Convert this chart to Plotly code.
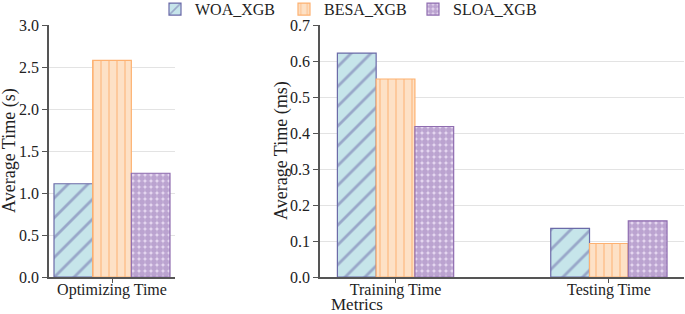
import plotly.graph_objects as go

series = ["WOA_XGB", "BESA_XGB", "SLOA_XGB"]
opt_cat = ["Optimizing Time"]
opt_vals = {"WOA_XGB": [1.11], "BESA_XGB": [2.58], "SLOA_XGB": [1.235]}
tt_cat = ["Training Time", "Testing Time"]
tt_vals = {"WOA_XGB": [0.622, 0.135], "BESA_XGB": [0.55, 0.093], "SLOA_XGB": [0.418, 0.156]}
y1_ticks = [0.0, 0.5, 1.0, 1.5, 2.0, 2.5, 3.0]
y2_ticks = [0.0, 0.1, 0.2, 0.3, 0.4, 0.5, 0.6, 0.7]

styles = {
    "WOA_XGB": dict(bg="#c6e5ea", fg="#6b6aa8", shape="/", size=14, sol=0.2),
    "BESA_XGB": dict(bg="#fde1c6", fg="#fdb171", shape="|", size=8, sol=0.25),
    "SLOA_XGB": dict(bg="#e6d9f0", fg="#8f6db0", shape=".", size=6, sol=0.75),
}
FONT = "Liberation Serif"
W, H = 685, 314

fig = go.Figure()
for s in series:
    st = styles[s]
    marker = dict(color=st["bg"], line=dict(color=st["fg"], width=1.2),
                  pattern=dict(shape=st["shape"], fgcolor=st["fg"], bgcolor=st["bg"],
                               size=st["size"], solidity=st["sol"], fillmode="overlay"))
    fig.add_trace(go.Bar(x=opt_cat, y=opt_vals[s], name=s, marker=marker,
                         xaxis="x", yaxis="y", legendgroup=s))
    fig.add_trace(go.Bar(x=tt_cat, y=tt_vals[s], name=s, marker=marker,
                         xaxis="x2", yaxis="y2", legendgroup=s, showlegend=False))

axis_common = dict(showline=True, linecolor="#555555", linewidth=1.5, ticks="outside",
                   tickcolor="#555555", automargin=False,
                   tickfont=dict(family=FONT, size=16, color="#222"))
xaxis_common = dict(ticklen=4, ticklabelstandoff=-7, **axis_common)
yaxis_common = dict(ticklen=5, **axis_common)
ydom = [1 - 277 / H, 1 - 25 / H]
fig.update_layout(
    template="none",
    width=W, height=H, margin=dict(l=0, r=0, t=0, b=0, autoexpand=False),
    paper_bgcolor="white", plot_bgcolor="white",
    barmode="group", bargap=0.455, bargroupgap=0,
    font=dict(family=FONT, size=16, color="#222"),
    xaxis=dict(domain=[49 / W, 175 / W], range=[-0.296, 0.296], type="category",
               showgrid=False, **xaxis_common),
    xaxis2=dict(domain=[320 / W, 684 / W], range=[-0.354, 1.352], type="category",
                showgrid=False, **xaxis_common),
    yaxis=dict(domain=ydom, range=[0, 3.0], tickvals=y1_ticks, tickformat=".1f", zeroline=False,
               showgrid=True, gridcolor="#e3e3e3", gridwidth=1.2, anchor="x", **yaxis_common),
    yaxis2=dict(domain=ydom, range=[0, 0.7], tickvals=y2_ticks, tickformat=".1f", zeroline=False,
                showgrid=True, gridcolor="#e3e3e3", gridwidth=1.2, anchor="x2", **yaxis_common),
    legend=dict(orientation="h", x=155 / W, y=1.025, xanchor="left", yanchor="top",
                entrywidth=84, entrywidthmode="pixels",
                font=dict(family=FONT, size=16, color="#222"), bgcolor="rgba(0,0,0,0)"),
    annotations=[
        dict(text="Average Time (s)", x=9 / W, y=(ydom[0] + ydom[1]) / 2, xref="paper", yref="paper",
             xanchor="center", yanchor="middle",
             textangle=-90, showarrow=False, font=dict(family=FONT, size=18, color="#222")),
        dict(text="Average Time (ms)", x=281 / W, y=(ydom[0] + ydom[1]) / 2, xref="paper", yref="paper",
             xanchor="center", yanchor="middle",
             textangle=-90, showarrow=False, font=dict(family=FONT, size=18, color="#222")),
        dict(text="Metrics", x=357 / W, y=-1 / H, xref="paper", yref="paper",
             xanchor="center", yanchor="bottom", borderpad=0,
             showarrow=False, font=dict(family=FONT, size=17, color="#222")),
    ],
)
fig.write_html("out.html", config={"displayModeBar": False},
               post_script="document.body.style.margin='0';")
